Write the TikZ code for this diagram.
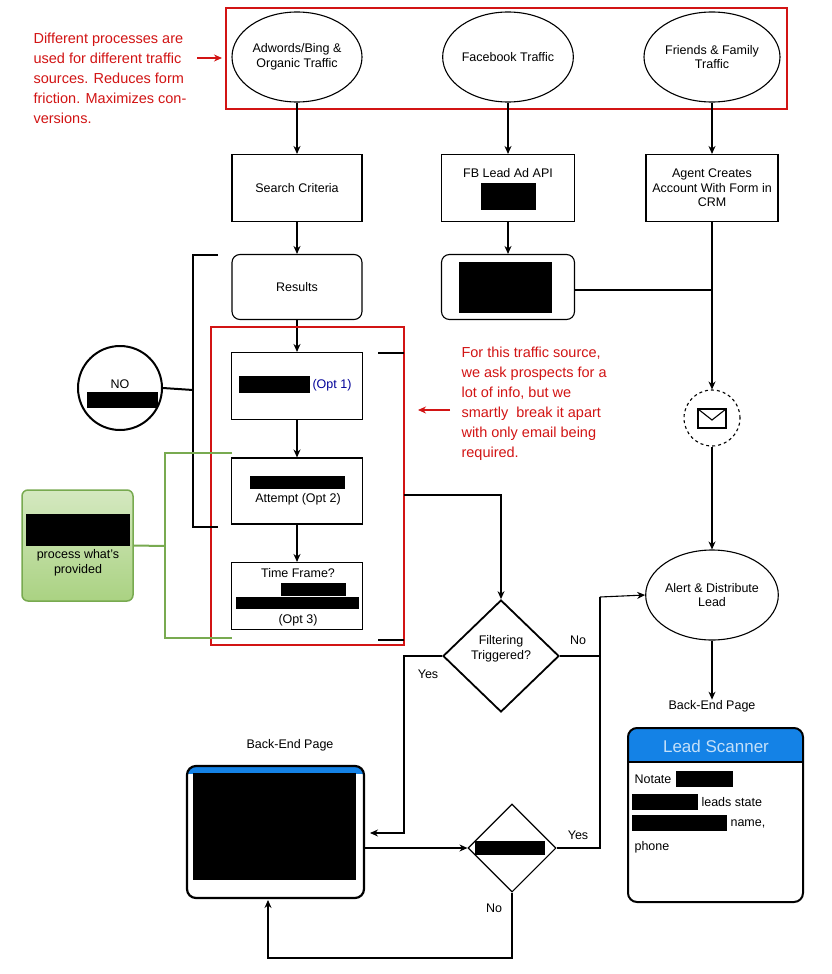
\documentclass[tikz,border=0pt]{standalone}
\usepackage{fontspec}
\setmainfont{Liberation Sans}
\usetikzlibrary{shapes.geometric,arrows.meta,positioning}
\definecolor{myred}{RGB}{210,20,20}
\definecolor{hblue}{RGB}{20,130,230}
\definecolor{gfill}{RGB}{170,210,130}
\definecolor{gline}{RGB}{120,170,80}
\begin{document}
\begin{tikzpicture}[x=1pt,y=-1pt,line width=1.1,
  every node/.style={font=\fontsize{12.5}{14.5}\selectfont,align=center,inner sep=0pt},
  ell/.style={draw,ellipse,minimum width=130,minimum height=90},
  box/.style={draw,rectangle,minimum width=130,minimum height=67},
  rbox/.style={draw,rounded corners=8,minimum width=130,minimum height=65},
  arr/.style={-{Stealth[length=8,width=7]}},
  redt/.style={text=myred,font=\fontsize{14.5}{20}\selectfont,align=left},
  dia/.style={draw,diamond,aspect=1.05,inner sep=0pt}]
\useasboundingbox (0,0) rectangle (831,974);
\fill[white] (0,0) rectangle (831,974);
% top
\draw[myred,line width=2.5] (226,8) rectangle (787,109);
\node[ell] (adw) at (297,57) {Adwords/Bing \&\\Organic Traffic};
\node[ell] (fb) at (508,57) {Facebook Traffic};
\node[ell,minimum width=136] (ff) at (712,57) {Friends \& Family\\Traffic};
\node[redt,anchor=north west] (note1) at (33,32) {Different processes are\\used for different traffic\\sources. Reduces form\\friction. Maximizes con-\\versions.};
\coordinate (n1a) at (197,58); \coordinate (n1b) at (222,58);
\draw[myred,arr] (n1a) -- (n1b);
% row 2
\node[box] (sc) at (297,188) {Search Criteria};
\node[box,minimum width=133] (fbl) at (508,188) {};
\node at (508,173) {FB Lead Ad API};
\fill (481,183) rectangle (536,210);
\node[box,minimum width=132] (ag) at (712,188) {Agent Creates\\Account With Form in\\CRM};
\draw[arr] (adw) -- (sc);
\draw[arr] (fb) -- (fbl);
\draw[arr] (ff) -- (ag);
% row 3
\node[rbox] (res) at (297,287) {Results};
\node[rbox,minimum width=133] (fbb) at (508,287) {};
\fill (459,262) rectangle (552,313);
\draw[arr] (sc) -- (res);
\draw[arr] (fbl) -- (fbb);
% envelope
\node[draw,circle,dashed,minimum size=56] (env) at (712,418) {};
\draw (698,409) rectangle (726,428);
\draw (698,409) -- (712,420) -- (726,409);
\coordinate (jn) at (712,290);
\draw (fbb.east|-jn) -- (jn);
\draw[arr] (ag.south) -- (env.north);
% alert
\node[ell] (al) at (712,595) {Alert \& Distribute\\Lead};
\draw[arr] (env.south) -- (al.north);
\node (bep2) at (712,706) {Back-End Page};
\draw[arr] (al.south) -- (bep2.north);
% lead scanner
\node[minimum width=175,minimum height=174] (ls) at (715.5,815) {};
\begin{scope}
\clip[rounded corners=9] (628,728) rectangle (803,902);
\fill[hblue] (628,728) rectangle (803,762);
\end{scope}
\draw[rounded corners=9,line width=2] (628,728) rectangle (803,902);
\draw[line width=1.5] (628,762) -- (803,762);
\node[text=white!75!hblue,font=\fontsize{17}{20}\selectfont] at (716,746) {Lead Scanner};
\node[anchor=west] at (634,779) {Notate};
\fill (676,771) rectangle (733,787);
\fill (632,794) rectangle (698,810);
\node[anchor=west] at (701,802) {leads state};
\fill (632,815) rectangle (727,831);
\node[anchor=west] at (730,824) {name,};
\node[anchor=west] at (634,847) {phone};
% options column
\node[box,minimum width=131] (o1) at (297,386) {};
\fill (239,376) rectangle (310,393);
\node[anchor=west,text=blue!60!black] at (312,385) {(Opt 1)};
\node[box,minimum width=131,minimum height=66] (o2) at (297,491) {};
\fill (250,476) rectangle (345,489);
\node at (298,499) {Attempt (Opt 2)};
\node[box,minimum width=131] (o3) at (297,596) {};
\node at (298,573) {Time Frame?};
\fill (281,583) rectangle (346,596);
\fill (236,597) rectangle (359,609);
\node at (298,620) {(Opt 3)};
\draw[arr] (res) -- (o1);
\draw[arr] (o1) -- (o2);
\draw[arr] (o2) -- (o3);
\draw[myred,line width=2.5] (211,327) rectangle (404,645);
% black bracket + NO
\draw[line width=2] (218,255) -- (193,255) -- (193,527) -- (218,527);
\node[draw,circle,line width=2,minimum size=84] (no) at (120,388) {};
\node at (120,384) {NO};
\fill (87,392) rectangle (158,408);
\draw[line width=2] (no.east) -- (193,390);
% green
\draw[gline,line width=2] (232,453) -- (165,453) -- (165,638) -- (232,638);
\node[draw=gline,line width=1.5,rounded corners=6,top color=gfill!50,bottom color=gfill,minimum width=111,minimum height=111] (gr) at (77.5,545.5) {};
\fill (26,514) rectangle (130,546);
\node at (78,563) {process what's\\provided};
\draw[gline,line width=2] (gr.east) -- (165,546);
% right bracket
\draw[line width=2] (378,353) -- (404,353);
\draw[line width=2] (378,640) -- (404,640);
% right note
\node[redt,anchor=north west] (note2) at (461,346) {For this traffic source,\\we ask prospects for a\\lot of info, but we\\smartly\ \ break it apart\\with only email being\\required.};
\coordinate (n2a) at (450,410); \coordinate (n2b) at (418,410);
\draw[myred,arr] (n2a) -- (n2b);
% filtering diamond
\node[dia,line width=1.8,minimum width=116,minimum height=112] (ft) at (501,656) {};
\node at (501,649) {Filtering\\Triggered?};
\draw[line width=2] (404,495) -- (434,495);
\draw[arr] (434,495) -- (501,495) -- (ft.north);
\draw (ft.east) -- (600,656) -- (600,597);
\draw[arr] (600,597) -- (al.west);
\node at (578,640) {No};
\draw[arr] (ft.west) -- (404,656) -- (404,833) -- (370,833);
\node at (428,674) {Yes};
% back-end box
\node (bep) at (290,745) {Back-End Page};
\begin{scope}
\clip[rounded corners=9] (187,766) rectangle (364,898);
\fill[hblue] (187,766) rectangle (364,774);
\end{scope}
\draw[rounded corners=9,line width=2.2] (187,766) rectangle (364,898);
\node[minimum width=177,minimum height=132] (be) at (275.5,832) {};
\fill (193,773) rectangle (356,880);
% diamond 2
\node[dia,minimum width=88,minimum height=88] (d2) at (512,848) {};
\fill (475,841) rectangle (545,855);
\draw[arr] (be.east|-d2) -- (d2.west);
\draw (d2.east) -- (600,848) -- (600,656);
\node at (578,835) {Yes};
\draw[arr] (d2.south) -- (512,958) -- (268,958) -- (268,900);
\node at (494,908) {No};
\end{tikzpicture}
\end{document}
